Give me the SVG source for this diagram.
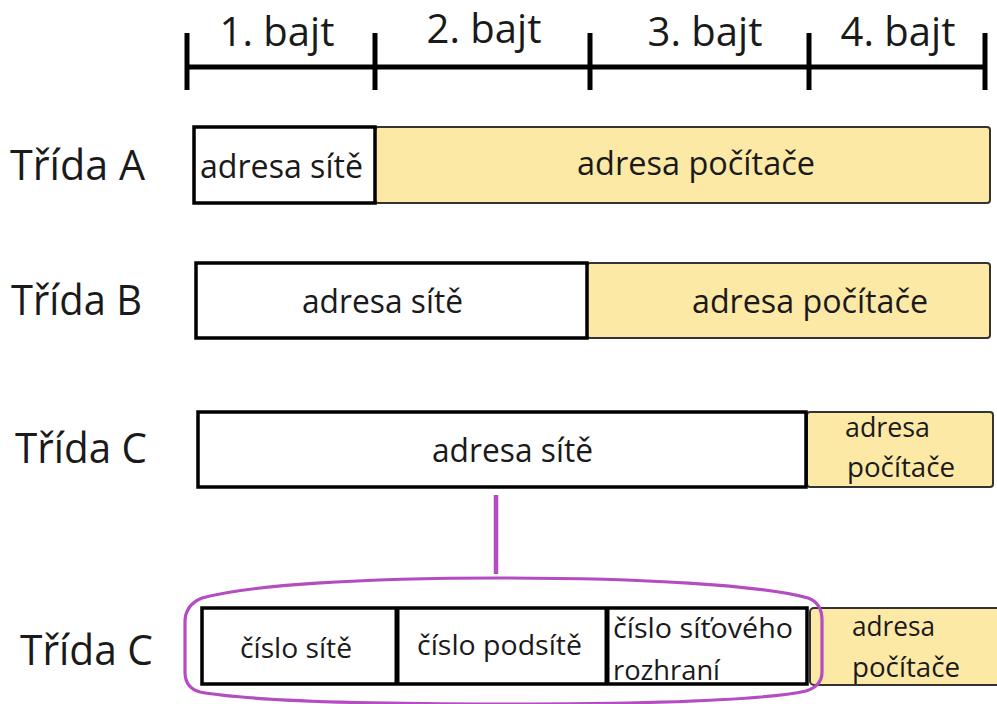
<svg xmlns="http://www.w3.org/2000/svg" width="997" height="704" viewBox="0 0 997 704">
  <style>
    text { font-family: "Open Sans", "Noto Sans", "DejaVu Sans", sans-serif; fill: #1a1a1a; }
    .bajt { font-size: 40px; text-anchor: middle; }
    .cls { font-size: 42px; }
    .lbl { font-size: 32px; }
    .sm { font-size: 27px; }
    .ruler { stroke: #000; stroke-width: 5; fill: none; }
    .net { fill: #fff; stroke: #000; stroke-width: 3.5; }
    .host { fill: #fde9a6; stroke: #333; stroke-width: 2; }
    .purple { stroke: #b44cc2; fill: none; }
  </style>

  <!-- byte ruler -->
  <g id="ruler">
    <line class="ruler" x1="187" y1="67" x2="985" y2="67"/>
    <line class="ruler" x1="187" y1="33" x2="187" y2="90"/>
    <line class="ruler" x1="375" y1="33" x2="375" y2="90"/>
    <line class="ruler" x1="590" y1="33" x2="590" y2="90"/>
    <line class="ruler" x1="809" y1="33" x2="809" y2="90"/>
    <line class="ruler" x1="985" y1="33" x2="985" y2="90"/>
    <text class="bajt" x="277" y="46">1. bajt</text>
    <text class="bajt" x="484" y="43">2. bajt</text>
    <text class="bajt" x="705" y="46">3. bajt</text>
    <text class="bajt" x="898" y="46">4. bajt</text>
  </g>

  <!-- class A -->
  <g id="class-a">
    <text class="cls" x="10" y="180" textLength="135" lengthAdjust="spacingAndGlyphs">Třída A</text>
    <rect class="host" x="375" y="127" width="615" height="76" rx="3"/>
    <rect class="net" x="194" y="127" width="181" height="76"/>
    <text class="lbl" x="200" y="178" textLength="163" lengthAdjust="spacingAndGlyphs">adresa sítě</text>
    <text class="lbl" x="577" y="175" textLength="238" lengthAdjust="spacingAndGlyphs">adresa počítače</text>
  </g>

  <!-- class B -->
  <g id="class-b">
    <text class="cls" x="11" y="315" textLength="131" lengthAdjust="spacingAndGlyphs">Třída B</text>
    <rect class="host" x="587" y="263" width="403" height="75" rx="3"/>
    <rect class="net" x="196" y="263" width="391" height="75"/>
    <text class="lbl" x="302" y="313" textLength="161" lengthAdjust="spacingAndGlyphs">adresa sítě</text>
    <text class="lbl" x="692" y="313" textLength="236" lengthAdjust="spacingAndGlyphs">adresa počítače</text>
  </g>

  <!-- class C -->
  <g id="class-c">
    <text class="cls" x="15" y="463" textLength="132" lengthAdjust="spacingAndGlyphs">Třída C</text>
    <rect class="host" x="807" y="412" width="186" height="75" rx="3"/>
    <rect class="net" x="198" y="412" width="608" height="75"/>
    <text class="lbl" x="432" y="462" textLength="161" lengthAdjust="spacingAndGlyphs">adresa sítě</text>
    <text class="sm" x="845" y="437" textLength="85" lengthAdjust="spacingAndGlyphs">adresa</text>
    <text class="sm" x="847" y="477" textLength="108" lengthAdjust="spacingAndGlyphs">počítače</text>
  </g>

  <!-- class C split into subnet fields -->
  <g id="class-c-subnet">
    <text class="cls" x="20" y="665" textLength="133" lengthAdjust="spacingAndGlyphs">Třída C</text>
    <rect class="host" x="810" y="608" width="200" height="77" rx="4"/>
    <rect class="net" x="202" y="608" width="605" height="76" stroke-width="4"/>
    <line stroke="#000" stroke-width="5" x1="397" y1="608" x2="397" y2="684"/>
    <line stroke="#000" stroke-width="5" x1="607" y1="608" x2="607" y2="684"/>
    <text class="sm" x="240" y="658" textLength="112" lengthAdjust="spacingAndGlyphs">číslo sítě</text>
    <text class="sm" x="417" y="655" textLength="165" lengthAdjust="spacingAndGlyphs">číslo podsítě</text>
    <text class="sm" x="613" y="638" textLength="180" lengthAdjust="spacingAndGlyphs">číslo síťového</text>
    <text class="sm" x="613" y="680" textLength="107" lengthAdjust="spacingAndGlyphs">rozhraní</text>
    <text class="sm" x="852" y="636" textLength="83" lengthAdjust="spacingAndGlyphs">adresa</text>
    <text class="sm" x="852" y="677" textLength="108" lengthAdjust="spacingAndGlyphs">počítače</text>
  </g>

  <!-- connectors -->
  <g id="connectors">
    <line class="purple" stroke-width="4.5" x1="496" y1="495" x2="496" y2="574"/>
    <path class="purple" stroke-width="3.2" d="M 500 578 C 640 578 760 585 808 598 Q 822 603 822 620 L 822 672 Q 822 686 806 691 C 760 701 640 704 500 704 C 360 704 250 701 200 692 Q 185 688 185 672 L 185 622 Q 185 605 202 598 C 250 585 360 578 500 578 Z"/>
  </g>
</svg>
